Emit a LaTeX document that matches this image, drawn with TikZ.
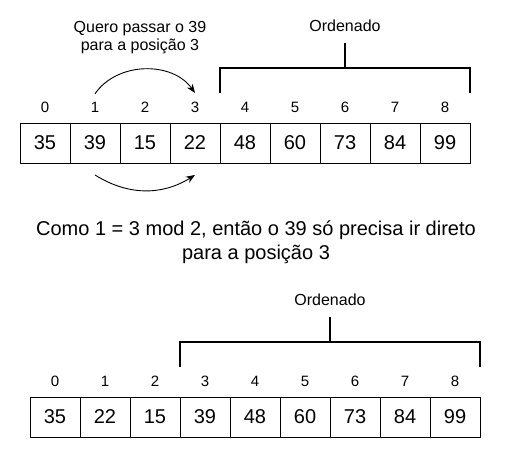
\documentclass[tikz,border=0pt]{standalone}
\usepackage{fontspec}
\setmainfont{Liberation Sans}
\usetikzlibrary{positioning,calc,arrows.meta}

\tikzset{
  cell/.style={draw, line width=1pt, minimum width=50pt, minimum height=40pt,
    inner sep=0pt, outer sep=0pt, font=\fontsize{20}{24}\selectfont},
  idx/.style={inner sep=0pt, font=\fontsize{15}{18}\selectfont},
  brace/.style={line width=2.2pt},
  swap/.style={-{Stealth[length=9pt,width=7pt]}, line width=0.9pt},
  note/.style={align=center, inner sep=0pt, font=\fontsize{16}{18.4}\selectfont},
}

\begin{document}
\begin{tikzpicture}[x=1pt,y=-1pt]
\useasboundingbox (0,0) rectangle (517,460);
% top array
\node[cell] (a0) at (45,143) {35};%
 \node[cell, right=0pt of a0] (a1) {39};%
 \node[cell, right=0pt of a1] (a2) {15};%
 \node[cell, right=0pt of a2] (a3) {22};%
 \node[cell, right=0pt of a3] (a4) {48};%
 \node[cell, right=0pt of a4] (a5) {60};%
 \node[cell, right=0pt of a5] (a6) {73};%
 \node[cell, right=0pt of a6] (a7) {84};%
 \node[cell, right=0pt of a7] (a8) {99};%
% top indices
 \node[idx, above=10pt of a0] (i0) {0};
 \node[idx, above=10pt of a1] (i1) {1};
 \node[idx, above=10pt of a2] (i2) {2};
 \node[idx, above=10pt of a3] (i3) {3};
 \node[idx, above=10pt of a4] (i4) {4};
 \node[idx, above=10pt of a5] (i5) {5};
 \node[idx, above=10pt of a6] (i6) {6};
 \node[idx, above=10pt of a7] (i7) {7};
 \node[idx, above=10pt of a8] (i8) {8};

% top bracket
 \coordinate (t0) at ($(a4.north west)+(0,-30)$);
 \coordinate (t1) at ($(a4.north west)+(0,-55)$);
 \coordinate (t2) at ($(a8.north east)+(0,-55)$);
 \coordinate (t3) at ($(a8.north east)+(0,-30)$);
 \coordinate (tm) at ($(t1)!0.5!(t2)$);
 \coordinate (ts) at ($(tm)+(0,-25)$);
 \node[note, above=11pt of ts] (ord1) {Ordenado};
 \draw[brace] (t0) -- (t1) -- (t2) -- (t3);
 \draw[brace] (tm) -- (ts);

% swap
 \node[note] (want) at (140,37.4) {Quero passar o 39\\para a posição 3};
 \draw[swap] ([yshift=8.5pt]i1.north) to[bend left=55] ([yshift=9pt]i3.north);
 \draw[swap] ([yshift=-12pt]a1.south) to[bend right=32] ([yshift=-12pt]a3.south);

% explanation
 \node[note, font=\fontsize{20}{24}\selectfont] (why) at (256,242)
  {Como 1 = 3 mod 2, então o 39 só precisa ir direto\\para a posição 3};

% bottom array
\node[cell] (b0) at (55,417) {35};%
 \node[cell, right=0pt of b0] (b1) {22};%
 \node[cell, right=0pt of b1] (b2) {15};%
 \node[cell, right=0pt of b2] (b3) {39};%
 \node[cell, right=0pt of b3] (b4) {48};%
 \node[cell, right=0pt of b4] (b5) {60};%
 \node[cell, right=0pt of b5] (b6) {73};%
 \node[cell, right=0pt of b6] (b7) {84};%
 \node[cell, right=0pt of b7] (b8) {99};%
% bottom indices
 \node[idx, above=10pt of b0] (j0) {0};
 \node[idx, above=10pt of b1] (j1) {1};
 \node[idx, above=10pt of b2] (j2) {2};
 \node[idx, above=10pt of b3] (j3) {3};
 \node[idx, above=10pt of b4] (j4) {4};
 \node[idx, above=10pt of b5] (j5) {5};
 \node[idx, above=10pt of b6] (j6) {6};
 \node[idx, above=10pt of b7] (j7) {7};
 \node[idx, above=10pt of b8] (j8) {8};

% bottom bracket
 \coordinate (u0) at ($(b3.north west)+(0,-30)$);
 \coordinate (u1) at ($(b3.north west)+(0,-55)$);
 \coordinate (u2) at ($(b8.north east)+(0,-55)$);
 \coordinate (u3) at ($(b8.north east)+(0,-30)$);
 \coordinate (um) at ($(u1)!0.5!(u2)$);
 \coordinate (us) at ($(um)+(0,-25)$);
 \node[note, above=11pt of us] (ord2) {Ordenado};
 \draw[brace] (u0) -- (u1) -- (u2) -- (u3);
 \draw[brace] (um) -- (us);
\end{tikzpicture}
\end{document}
